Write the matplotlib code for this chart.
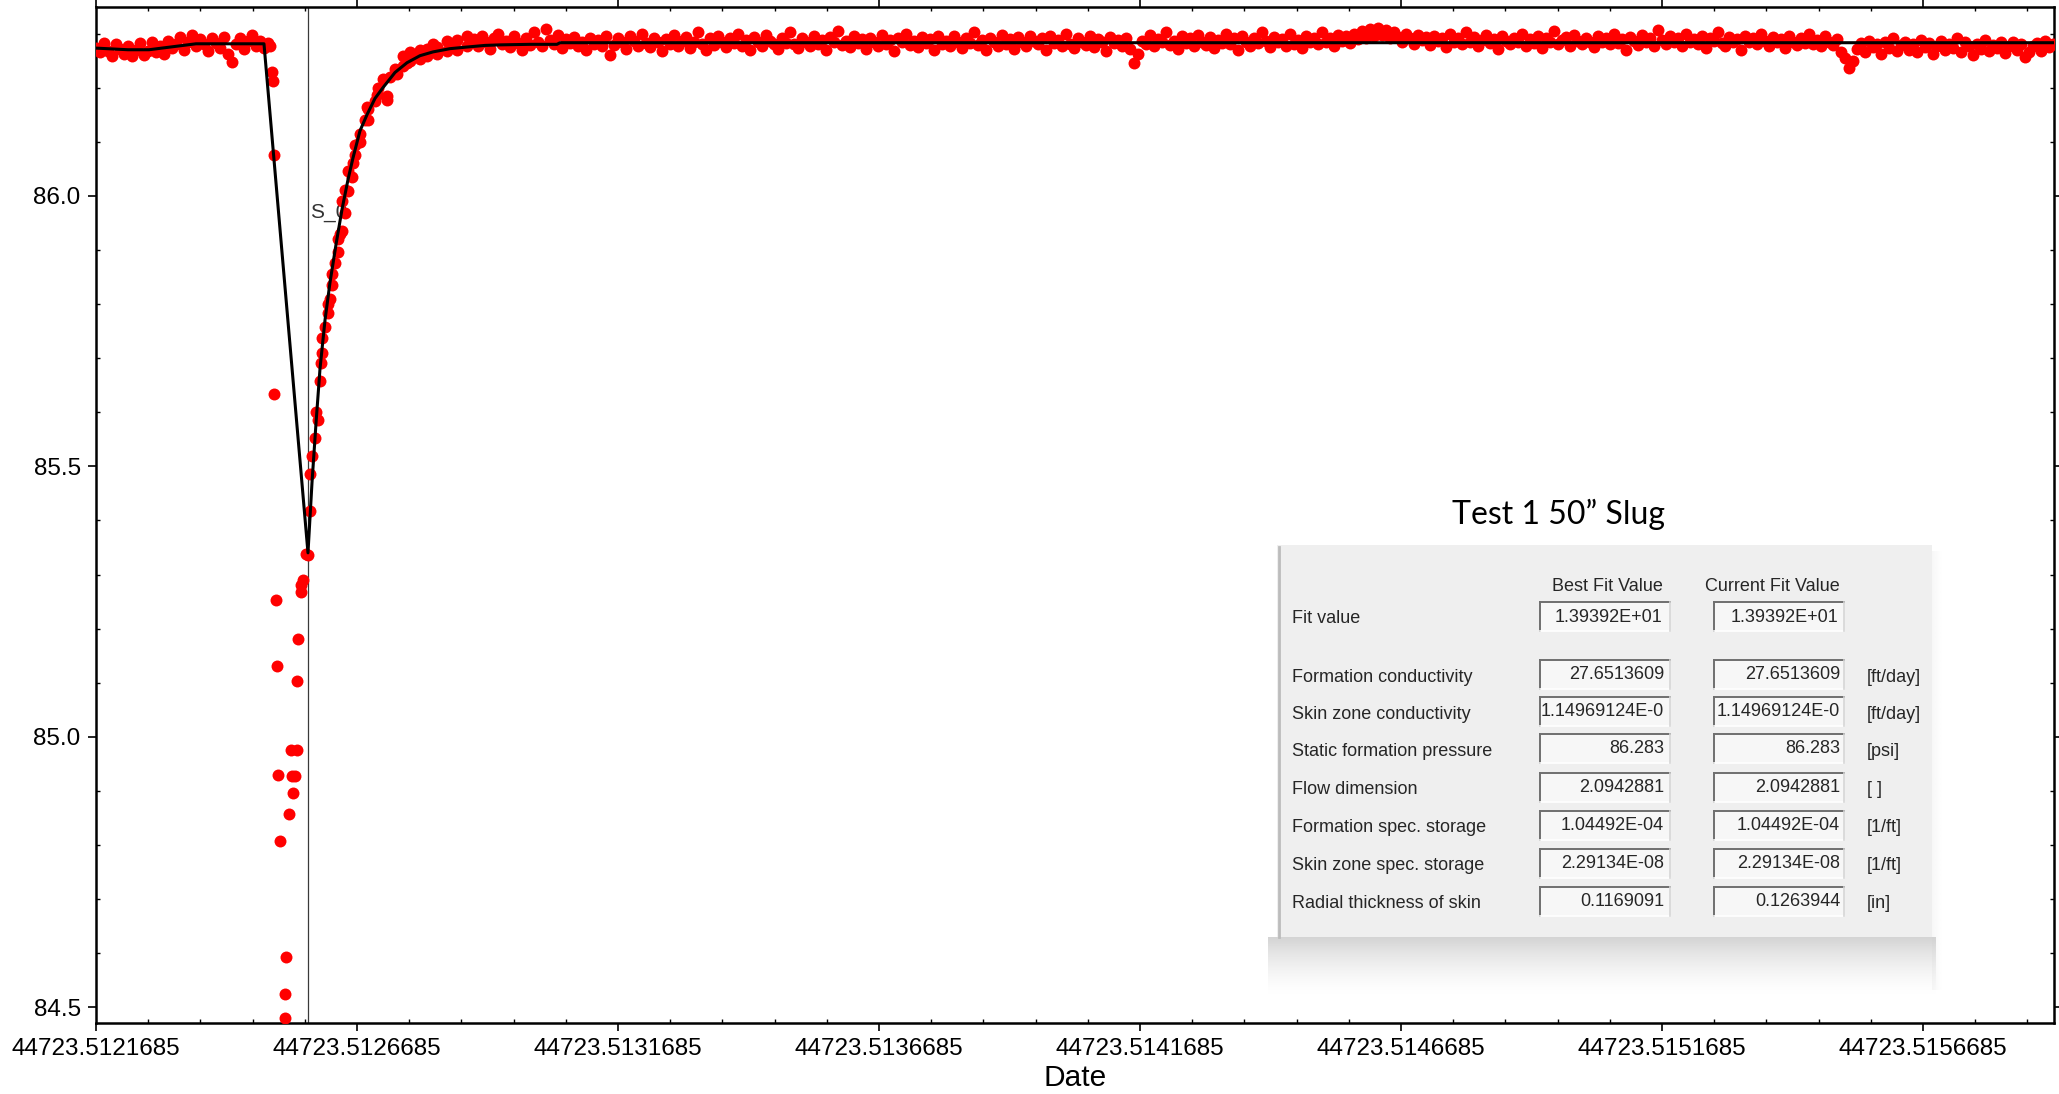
import numpy as np
import matplotlib
matplotlib.use("Agg")
import matplotlib.pyplot as plt
from matplotlib.ticker import FixedLocator, FormatStrFormatter, MultipleLocator
from matplotlib.patches import Rectangle

plt.rcParams['font.family'] = ['Liberation Sans', 'DejaVu Sans']

# axis ticks (Excel date numbers / psi)
date_ticks = [44723.5121685, 44723.5126685, 44723.5131685, 44723.5136685,
              44723.5141685, 44723.5146685, 44723.5151685, 44723.5156685]
pressure_ticks = [84.5, 85.0, 85.5, 86.0]

# logger samples are evenly spaced in time
sample_step = 0.00000766

# static level before the slug
pre_start = 44723.5121685
pre_p = [86.274, 86.265, 86.282, 86.268, 86.258, 86.280, 86.272, 86.263, 86.277, 86.258,
         86.269, 86.282, 86.261, 86.268, 86.285, 86.265, 86.276, 86.263, 86.287, 86.273,
         86.280, 86.294, 86.269, 86.285, 86.298, 86.276, 86.289, 86.280, 86.268, 86.291,
         86.282, 86.273, 86.294, 86.263, 86.247, 86.280, 86.291, 86.272, 86.286, 86.297,
         86.277, 86.287, 86.273, 86.282]

# slug insertion - scattered readings
slug_t = [44723.5125018, 44723.5125057, 44723.5125076, 44723.5125095, 44723.5125095,
          44723.5125133, 44723.5125152, 44723.5125172, 44723.5125210, 44723.5125306,
          44723.5125306, 44723.5125325, 44723.5125382, 44723.5125421, 44723.5125440,
          44723.5125459, 44723.5125497, 44723.5125536, 44723.5125536, 44723.5125555,
          44723.5125612, 44723.5125612, 44723.5125651, 44723.5125708]
slug_p = [86.276, 86.228, 86.212, 86.076, 85.634,
          85.253, 85.130, 84.930, 84.808, 84.480,
          84.525, 84.593, 84.857, 84.975, 84.928,
          84.896, 84.928, 84.975, 85.104, 85.181,
          85.268, 85.280, 85.290, 85.338]

# recovery
recovery_t = [44723.5125746, 44723.5125785, 44723.5125785, 44723.5125823, 44723.5125880,
              44723.5125938, 44723.5125900, 44723.5125976, 44723.5125995, 44723.5126015,
              44723.5126015, 44723.5126072, 44723.5126129, 44723.5126129, 44723.5126168,
              44723.5126206, 44723.5126206, 44723.5126264, 44723.5126321, 44723.5126321,
              44723.5126359, 44723.5126398, 44723.5126398, 44723.5126455, 44723.5126455,
              44723.5126513, 44723.5126513, 44723.5126589, 44723.5126608, 44723.5126647,
              44723.5126647, 44723.5126742, 44723.5126742, 44723.5126838, 44723.5126877,
              44723.5126896, 44723.5126896, 44723.5127030, 44723.5127068, 44723.5127087,
              44723.5127183, 44723.5127260, 44723.5127260, 44723.5127317, 44723.5127413,
              44723.5127451, 44723.5127566, 44723.5127566, 44723.5127643, 44723.5127700,
              44723.5127700, 44723.5127834, 44723.5127892, 44723.5127892, 44723.5128026,
              44723.5128026, 44723.5128141, 44723.5128218, 44723.5128218, 44723.5128409,
              44723.5128409, 44723.5128467, 44723.5128601, 44723.5128601, 44723.5128792,
              44723.5128792, 44723.5128850]
recovery_p = [85.336, 85.418, 85.486, 85.519, 85.553,
              85.586, 85.600, 85.658, 85.691, 85.738,
              85.710, 85.758, 85.784, 85.800, 85.810,
              85.856, 85.835, 85.876, 85.896, 85.920,
              85.930, 85.935, 85.990, 85.969, 86.010,
              86.009, 86.045, 86.035, 86.061, 86.094,
              86.075, 86.115, 86.100, 86.140, 86.165,
              86.161, 86.140, 86.175, 86.187, 86.200,
              86.215, 86.177, 86.185, 86.220, 86.235,
              86.226, 86.240, 86.258, 86.245, 86.250,
              86.265, 86.259, 86.270, 86.252, 86.272,
              86.258, 86.280, 86.275, 86.262, 86.287,
              86.268, 86.278, 86.288, 86.270, 86.296,
              86.276, 86.283]

# back at static level
post_start = 44723.5128926
post_p = [86.289, 86.277, 86.295, 86.284, 86.272, 86.292, 86.300, 86.280, 86.287, 86.275,
          86.296, 86.283, 86.270, 86.291, 86.279, 86.302, 86.285, 86.276, 86.308, 86.288,
          86.280, 86.298, 86.273, 86.289, 86.283, 86.293, 86.277, 86.285, 86.269, 86.292,
          86.281, 86.288, 86.276, 86.296, 86.260, 86.279, 86.291, 86.284, 86.272, 86.295,
          86.287, 86.277, 86.299, 86.283, 86.275, 86.292, 86.285, 86.268, 86.289, 86.280,
          86.298, 86.276, 86.287, 86.293, 86.273, 86.284, 86.303, 86.281, 86.270, 86.291,
          86.279, 86.296, 86.285, 86.275, 86.292, 86.283, 86.300, 86.277, 86.288, 86.269,
          86.293, 86.284, 86.276, 86.298, 86.287, 86.280, 86.272, 86.291, 86.283, 86.302,
          86.281, 86.273, 86.292, 86.285, 86.277, 86.296, 86.280, 86.288, 86.270, 86.293,
          86.284, 86.304, 86.279, 86.287, 86.275, 86.295, 86.283, 86.289, 86.272, 86.292,
          86.285, 86.277, 86.298, 86.281, 86.288, 86.268, 86.291, 86.284, 86.300, 86.279,
          86.287, 86.275, 86.293, 86.283, 86.289, 86.270, 86.296, 86.280, 86.287, 86.277,
          86.295, 86.284, 86.273, 86.291, 86.283, 86.302, 86.279, 86.288, 86.269, 86.292,
          86.285, 86.277, 86.298, 86.281, 86.289, 86.272, 86.293, 86.284, 86.276, 86.296,
          86.287, 86.280, 86.291, 86.270, 86.295, 86.283, 86.288, 86.277, 86.299, 86.281,
          86.273, 86.292, 86.285, 86.279, 86.296, 86.275, 86.289, 86.284, 86.268, 86.293,
          86.283, 86.288, 86.276, 86.292, 86.272, 86.246, 86.262, 86.287, 86.280, 86.298,
          86.277, 86.289, 86.284, 86.302, 86.279, 86.287, 86.272, 86.295, 86.283, 86.291,
          86.276, 86.298, 86.285, 86.279, 86.293, 86.273, 86.288, 86.283, 86.300, 86.280,
          86.291, 86.270, 86.295, 86.285, 86.277, 86.292, 86.283, 86.303, 86.287, 86.275,
          86.293, 86.284, 86.289, 86.277, 86.299, 86.281, 86.288, 86.273, 86.296, 86.285,
          86.292, 86.280, 86.302, 86.284, 86.291, 86.276, 86.298, 86.287, 86.295, 86.283,
          86.300, 86.289, 86.304, 86.292, 86.308, 86.295, 86.311, 86.298, 86.306, 86.291,
          86.302, 86.293, 86.285, 86.300, 86.291, 86.281, 86.298, 86.288, 86.293, 86.279,
          86.296, 86.287, 86.292, 86.275, 86.299, 86.284, 86.291, 86.280, 86.302, 86.285,
          86.293, 86.277, 86.288, 86.298, 86.283, 86.289, 86.272, 86.295, 86.287, 86.280,
          86.292, 86.284, 86.300, 86.277, 86.289, 86.283, 86.296, 86.273, 86.291, 86.285,
          86.304, 86.281, 86.288, 86.293, 86.276, 86.298, 86.287, 86.280, 86.292, 86.284,
          86.275, 86.295, 86.285, 86.291, 86.280, 86.300, 86.283, 86.289, 86.270, 86.293,
          86.287, 86.279, 86.298, 86.284, 86.291, 86.277, 86.306, 86.288, 86.281, 86.296,
          86.285, 86.292, 86.276, 86.299, 86.284, 86.289, 86.280, 86.296, 86.273, 86.291,
          86.287, 86.302, 86.283, 86.277, 86.293, 86.285, 86.289, 86.270, 86.295, 86.284,
          86.291, 86.280, 86.299, 86.287, 86.277, 86.293, 86.284, 86.289, 86.273, 86.296,
          86.285, 86.279, 86.292, 86.283, 86.300, 86.281, 86.288, 86.276, 86.295, 86.285,
          86.279, 86.289, 86.266, 86.254, 86.236, 86.249, 86.272, 86.283, 86.265, 86.287,
          86.275, 86.280, 86.262, 86.284, 86.273, 86.291, 86.268, 86.279, 86.285, 86.270,
          86.281, 86.265, 86.288, 86.275, 86.283, 86.262, 86.277, 86.287, 86.269, 86.280,
          86.273, 86.291, 86.266, 86.284, 86.276, 86.260, 86.281, 86.272, 86.288, 86.268,
          86.279, 86.273, 86.284, 86.264, 86.276, 86.285, 86.270, 86.280, 86.256, 86.265,
          86.277, 86.283, 86.268, 86.287, 86.275, 86.280]

# fitted model curve
fit_t = [44723.5121685, 44723.5122298, 44723.5122700, 44723.5123601, 44723.5124903,
         44723.5125746, 44723.5125823, 44723.5125900, 44723.5125976, 44723.5126072,
         44723.5126168, 44723.5126283, 44723.5126398, 44723.5126513, 44723.5126608,
         44723.5126742, 44723.5126877, 44723.5127030, 44723.5127183, 44723.5127413,
         44723.5127643, 44723.5127892, 44723.5128141, 44723.5128467, 44723.5128792,
         44723.5129137, 44723.5129425, 44723.5129999, 44723.5130516, 44723.5130574,
         44723.5159195]
fit_p = [86.273, 86.270, 86.270, 86.281, 86.281,
         85.340, 85.470, 85.580, 85.680, 85.770,
         85.840, 85.910, 85.975, 86.030, 86.070,
         86.120, 86.150, 86.180, 86.200, 86.228,
         86.246, 86.259, 86.266, 86.272, 86.275,
         86.278, 86.279, 86.280, 86.280, 86.283,
         86.283]

s0_time = 44723.5125746

# fit results panel
fit_value = ['1.39392E+01', '1.39392E+01']
param_names = ['Formation conductivity', 'Skin zone conductivity', 'Static formation pressure',
               'Flow dimension', 'Formation spec. storage', 'Skin zone spec. storage',
               'Radial thickness of skin']
best_fit = ['27.6513609', '1.14969124E-0', '86.283', '2.0942881', '1.04492E-04',
            '2.29134E-08', '0.1169091']
current_fit = ['27.6513609', '1.14969124E-0', '86.283', '2.0942881', '1.04492E-04',
               '2.29134E-08', '0.1263944']
units = ['[ft/day]', '[ft/day]', '[psi]', '[ ]', '[1/ft]', '[1/ft]', '[in]']


W, H = 2059, 1094
fig = plt.figure(figsize=(W / 100, H / 100), dpi=100)
ax = fig.add_axes([96 / W, 1 - 1023 / H, (2054 - 96) / W, (1023 - 7) / H])

pre_t = pre_start + sample_step * np.arange(len(pre_p))
post_t = post_start + sample_step * np.arange(len(post_p))
data_t = np.concatenate([pre_t, slug_t, recovery_t, post_t])
data_p = np.concatenate([pre_p, slug_p, recovery_p, post_p])

ax.axvline(s0_time, color='#3a3a3a', lw=0.9, zorder=2)
ax.annotate('S_0', (s0_time, 85.969), xytext=(1.5, 0), textcoords='offset points',
            fontsize=15, color='#333333', va='center', ha='left', zorder=2)
ax.plot(data_t, data_p, 'o', color='#ff0000', ms=8.6, mec='none', zorder=3)
ax.plot(fit_t, fit_p, color='black', lw=2.2, zorder=4)

ax.set_xlim(44723.5121685, 44723.5159195)
ax.set_ylim(84.471, 86.349)
ax.xaxis.set_major_locator(FixedLocator(date_ticks))
ax.xaxis.set_major_formatter(FormatStrFormatter('%.7f'))
ax.xaxis.set_minor_locator(FixedLocator(date_ticks[0] + 0.0001 * np.arange(38)))
ax.yaxis.set_major_locator(FixedLocator(pressure_ticks))
ax.yaxis.set_major_formatter(FormatStrFormatter('%.1f'))
ax.yaxis.set_minor_locator(MultipleLocator(0.1))
ax.tick_params(which='major', direction='out', length=6, width=1.2, top=True, right=True,
               labelsize=17.5, pad=5)
ax.tick_params(which='minor', direction='in', length=3, width=1, top=True, right=True)
for sp in ax.spines.values():
    sp.set_linewidth(1.8)
ax.set_xlabel('Date', fontsize=21.5, labelpad=3)

# pasted fit-results dialog
tab = fig.add_axes([1260 / W, 1 - 1010 / H, (1950 - 1260) / W, (1010 - 480) / H])
tab.axis('off')

shade = np.zeros((60, 1, 4))
shade[..., :3] = 0.72
shade[..., 3] = 0.6 * np.linspace(1, 0, 60)[:, None] ** 1.6
tab.imshow(shade, extent=(1268, 1936, 997, 937), aspect='auto', interpolation='bilinear', zorder=1)
side = np.zeros((1, 20, 4))
side[..., :3] = 0.8
side[..., 3] = 0.15 * np.linspace(1, 0, 20)[None, :]
tab.imshow(side, extent=(1932, 1942, 990, 552), aspect='auto', interpolation='bilinear', zorder=1)

tab.add_patch(Rectangle((1277, 545), 655, 392, fc='#efefef', ec='none', zorder=2))
tab.plot([1279, 1279], [547, 937], color='#bcbcbc', lw=2, zorder=3)

tab.text(1559, 514, 'Test 1 50\u201d Slug', ha='center', va='center', fontsize=23,
         family=['Lato', 'DejaVu Sans'], color='black')

txt = dict(fontsize=13, color='#262626', va='center')
tab.text(1607, 587, 'Best Fit Value', ha='center', **txt)
tab.text(1772, 587, 'Current Fit Value', ha='center', **txt)


def box(x0, yc, w=130):
    top, bot = yc - 14.5, yc + 14.5
    tab.add_patch(Rectangle((x0, top), w, 29, fc='#f7f7f7', ec='none', zorder=3))
    tab.plot([x0, x0 + w], [top, top], color='#6f6f6f', lw=1.4, zorder=4)
    tab.plot([x0, x0], [top, bot], color='#6f6f6f', lw=1.4, zorder=4)
    tab.plot([x0, x0 + w], [bot, bot], color='#ffffff', lw=1.2, zorder=4)
    tab.plot([x0 + w, x0 + w], [top, bot], color='#d6d6d6', lw=1.2, zorder=4)


box(1540, 617)
box(1714, 617)
tab.text(1292, 619, 'Fit value', ha='left', **txt)
tab.text(1662, 618, fit_value[0], ha='right', **txt)
tab.text(1838, 618, fit_value[1], ha='right', **txt)

row_y = [675, 712, 749, 787, 825, 863, 901]
for name, b, c, u, yc in zip(param_names, best_fit, current_fit, units, row_y):
    box(1540, yc)
    box(1714, yc)
    tab.text(1292, yc + 3, name, ha='left', **txt)
    tab.text(1664, yc, b, ha='right', **txt)
    tab.text(1840, yc, c, ha='right', **txt)
    tab.text(1867, yc + 3, u, ha='left', **txt)

tab.set_xlim(1260, 1950)
tab.set_ylim(1010, 480)

fig.savefig('out.png', dpi=100)
